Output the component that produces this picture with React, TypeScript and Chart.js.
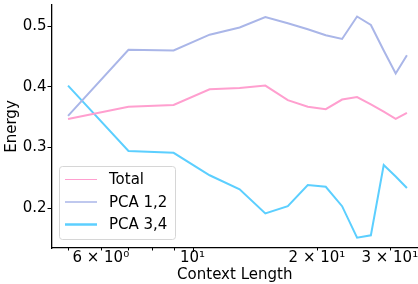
import React, { useEffect, useRef } from "react";
import { Chart, registerables } from "chart.js";

Chart.register(...registerables);

const contextLengths = [5, 7, 9, 11, 13, 15, 17, 19, 21, 23, 25, 27, 29, 31, 33];
const totalEnergy = [0.347, 0.367, 0.370, 0.396, 0.398, 0.402, 0.378, 0.367, 0.363, 0.379, 0.383, 0.371, 0.359, 0.347, 0.357];
const pca12Energy = [0.352, 0.461, 0.460, 0.486, 0.498, 0.515, 0.505, 0.495, 0.485, 0.479, 0.516, 0.502, 0.460, 0.422, 0.452];
const pca34Energy = [0.402, 0.294, 0.291, 0.254, 0.231, 0.191, 0.203, 0.238, 0.235, 0.203, 0.151, 0.155, 0.271, 0.252, 0.233];
const seriesLabels = ["Total", "PCA 1,2", "PCA 3,4"];
const xTickValues = [6, 10, 20, 30];
const xTickLabels = ["6 × 10⁰", "10¹", "2 × 10¹", "3 × 10¹"];
const xMinorTicks = [5, 7, 8, 9];
const yTickValues = [0.2, 0.3, 0.4, 0.5];
const xLabel = "Context Length";
const yLabel = "Energy";

const FONT = "'DejaVu Sans', sans-serif";

export default function App() {
  const ref = useRef<HTMLCanvasElement | null>(null);
  useEffect(() => {
    const colors = ["#ff9fcf", "#aab6e8", "#5ccfff"];
    const legendWidths = [1, 1.5, 2.5];
    const overlay = {
      id: "overlay",
      afterDraw(chart: any) {
        const ctx = chart.ctx;
        const xs = chart.scales.x;
        const area = chart.chartArea;
        ctx.save();
        ctx.strokeStyle = "#000";
        ctx.lineWidth = 1;
        const all = [...xMinorTicks.map((v) => [v, 2.5]), ...xTickValues.map((v) => [v, v === 10 ? 4 : 2.5])];
        for (const [v, len] of all) {
          const px = Math.round(xs.getPixelForValue(v)) + 0.5;
          ctx.beginPath();
          ctx.moveTo(px, area.bottom);
          ctx.lineTo(px, area.bottom + len);
          ctx.stroke();
        }
        const lx = 59.5, ly = 166.5, lw = 116, lh = 73, r = 3;
        ctx.fillStyle = "rgba(255,255,255,0.8)";
        ctx.strokeStyle = "#d6d6d6";
        ctx.lineWidth = 1;
        ctx.beginPath();
        ctx.moveTo(lx + r, ly);
        ctx.arcTo(lx + lw, ly, lx + lw, ly + lh, r);
        ctx.arcTo(lx + lw, ly + lh, lx, ly + lh, r);
        ctx.arcTo(lx, ly + lh, lx, ly, r);
        ctx.arcTo(lx, ly, lx + lw, ly, r);
        ctx.closePath();
        ctx.fill();
        ctx.stroke();
        ctx.font = `15px ${FONT}`;
        ctx.textBaseline = "middle";
        chart.data.datasets.forEach((ds: any, i: number) => {
          const yy = 179.5 + i * 22.5;
          ctx.strokeStyle = ds.borderColor;
          ctx.lineWidth = legendWidths[i];
          ctx.beginPath();
          ctx.moveTo(65, yy);
          ctx.lineTo(97, yy);
          ctx.stroke();
          ctx.fillStyle = "#000";
          ctx.fillText(ds.label, 109, yy + 1);
        });
        ctx.restore();
      },
    };
    const chart = new Chart(ref.current!, {
      type: "line",
      data: {
        labels: contextLengths,
        datasets: [totalEnergy, pca12Energy, pca34Energy].map((d, i) => ({
          label: seriesLabels[i],
          data: d.map((v, j) => ({ x: contextLengths[j], y: v })),
          borderColor: colors[i],
          backgroundColor: colors[i],
          borderWidth: 2,
          pointRadius: 0,
          tension: 0,
          fill: false,
        })),
      },
      options: {
        animation: false,
        responsive: false,
        events: [],
        layout: { padding: { left: 0, right: 0, top: 5, bottom: 0 } },
        plugins: { legend: { display: false }, tooltip: { enabled: false } },
        scales: {
          x: {
            type: "logarithmic",
            min: 4.56,
            max: 35.1,
            afterBuildTicks(scale: any) {
              scale.ticks = xTickValues.map((v) => ({ value: v }));
            },
            afterFit(scale: any) {
              scale.height = 36;
              scale.paddingLeft = 0;
              scale.paddingRight = 0;
            },
            grid: { display: false, drawOnChartArea: false, drawTicks: false },
            border: { display: true, color: "#000", width: 1.3 },
            ticks: {
              autoSkip: false,
              maxRotation: 0,
              padding: 1,
              color: "#000",
              font: { family: FONT, size: 15 },
              callback(value: any) {
                const i = xTickValues.indexOf(Number(value));
                return i >= 0 ? xTickLabels[i] : "";
              },
            },
            title: {
              display: true,
              text: xLabel,
              color: "#000",
              font: { family: FONT, size: 15 },
              padding: { top: 0, bottom: 0 },
            },
          },
          y: {
            type: "linear",
            min: 0.134,
            max: 0.535,
            afterBuildTicks(scale: any) {
              scale.ticks = yTickValues.map((v) => ({ value: v }));
            },
            afterFit(scale: any) {
              scale.width = 51.5;
              scale.paddingTop = 0;
              scale.paddingBottom = 0;
            },
            grid: { display: true, drawOnChartArea: false, drawTicks: true, tickLength: 4, color: "#000" },
            border: { display: true, color: "#000", width: 1.3 },
            ticks: {
              padding: 1,
              color: "#000",
              font: { family: FONT, size: 15 },
              callback(value: any) {
                return Number(value).toFixed(1);
              },
            },
            title: {
              display: true,
              text: yLabel,
              color: "#000",
              font: { family: FONT, size: 15 },
              padding: { top: 3, bottom: 0 },
            },
          },
        },
      },
      plugins: [overlay],
    });
    return () => chart.destroy();
  }, []);
  return (
    <div style={{ position: "fixed", left: 0, top: 0, width: 418, height: 284, background: "#fff" }}>
      <canvas ref={ref} width={418} height={284} style={{ display: "block" }} />
    </div>
  );
}
